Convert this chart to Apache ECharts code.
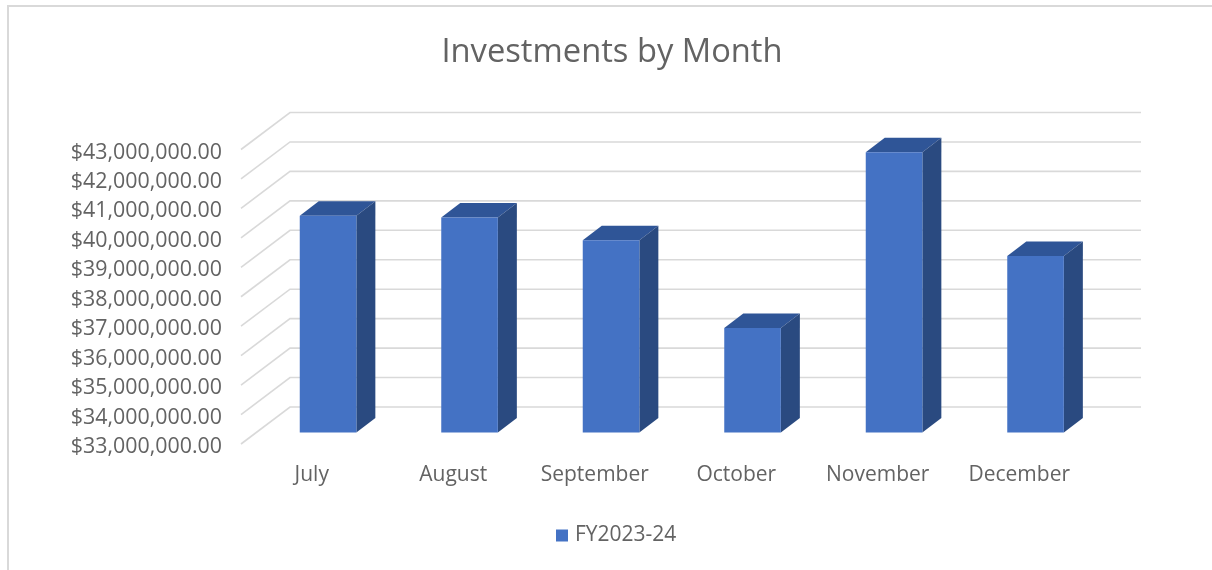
<!DOCTYPE html>
<html><head><meta charset="utf-8">
<style>html,body{margin:0;padding:0;background:#fff}#c{width:1212px;height:570px}</style>
<script src="https://cdn.jsdelivr.net/npm/echarts@6/dist/echarts.min.js"></script>
</head><body><div id="c"></div>
<script>
var categories = ['July','August','September','October','November','December'];
var investments = [40360000, 40300000, 39530000, 36550000, 42520000, 38990000];
var gridTicks = [33000000,34000000,35000000,36000000,37000000,38000000,39000000,40000000,41000000,42000000,43000000];
var seriesName = 'FY2023-24';
var FONT = '"Open Sans"';
var TEXT = '#636363';
var LINE = '#D9D9D9';
var WALL_DX = 49, WALL_DY = -37;
var BAR_SHIFT_X = 16.3, BAR_SHIFT_Y = -11.5;
var BAR_DX = 19, BAR_DY = -14.5;

function money(v){ return '$' + v.toLocaleString('en-US',{minimumFractionDigits:2,maximumFractionDigits:2}); }

function renderWall(params, api){
  var cs = params.coordSys;
  var p = api.coord([0, api.value(1)]);
  var x0 = cs.x, y0 = p[1];
  return {
    type:'polyline', silent:true,
    shape:{points:[[x0,y0],[x0+WALL_DX,y0+WALL_DY],[x0+cs.width+WALL_DX+2,y0+WALL_DY]]},
    style:{fill:'none',stroke:LINE,lineWidth:1.6}
  };
}
function renderBar(params, api){
  var i = api.value(0);
  var top = api.coord([i, api.value(1)]);
  var base = api.coord([i, gridTicks[0]]);
  var w = api.size([1,0])[0]*0.4;
  var l = top[0]+BAR_SHIFT_X-w/2, r = l+w;
  var t = top[1]+BAR_SHIFT_Y, b = base[1]+BAR_SHIFT_Y;
  return {type:'group',children:[
    {type:'polygon',shape:{points:[[l,t],[r,t],[r+BAR_DX,t+BAR_DY],[l+BAR_DX,t+BAR_DY]]},style:{fill:'#2F5597'}},
    {type:'polygon',shape:{points:[[r,t],[r+BAR_DX,t+BAR_DY],[r+BAR_DX,b+BAR_DY],[r,b]]},style:{fill:'#2A4A80'}},
    {type:'rect',shape:{x:l,y:t,width:w,height:b-t},style:{fill:'#4472C4'}}
  ]};
}

var chart = echarts.init(document.getElementById('c'),null,{renderer:'canvas'});
chart.setOption({
  animation:false,
  backgroundColor:'#fff',
  title:{text:'Investments by Month',left:607,top:31,textAlign:'center',
    textStyle:{fontFamily:FONT,fontSize:32.7,fontWeight:'normal',color:TEXT}},
  legend:{data:[seriesName],left:551,top:520,itemWidth:12,itemHeight:12,icon:'rect',
    textStyle:{fontFamily:FONT,fontSize:21,color:TEXT,padding:[0,0,0,2]}},
  grid:{left:241,top:149.5,width:849,height:294.5},
  xAxis:{type:'category',data:categories,
    axisLine:{show:false},axisTick:{show:false},splitLine:{show:false},
    axisLabel:{margin:21,fontFamily:FONT,fontSize:21,color:TEXT,interval:0}},
  yAxis:{type:'value',min:33000000,max:43000000,interval:1000000,
    axisLine:{show:false},axisTick:{show:false},splitLine:{show:false},
    axisLabel:{margin:19,fontFamily:FONT,fontSize:21.4,color:TEXT,formatter:money,verticalAlign:'top',lineHeight:6}},
  graphic:[
    {type:'line',silent:true,shape:{x1:7,y1:6,x2:1212,y2:6},style:{stroke:LINE,lineWidth:2}},
    {type:'line',silent:true,shape:{x1:8,y1:6,x2:8,y2:570},style:{stroke:LINE,lineWidth:2}}
  ],
  series:[
    {type:'custom',name:'gridlines',z:1,silent:true,renderItem:renderWall,clip:false,
     encode:{x:0,y:1},data:gridTicks.map(function(v){return [0,v];})},
    {type:'custom',name:seriesName,z:2,renderItem:renderBar,clip:false,
     itemStyle:{color:'#4472C4'},encode:{x:0,y:1},
     data:investments.map(function(v,i){return [i,v];})}
  ]
});
</script></body></html>
